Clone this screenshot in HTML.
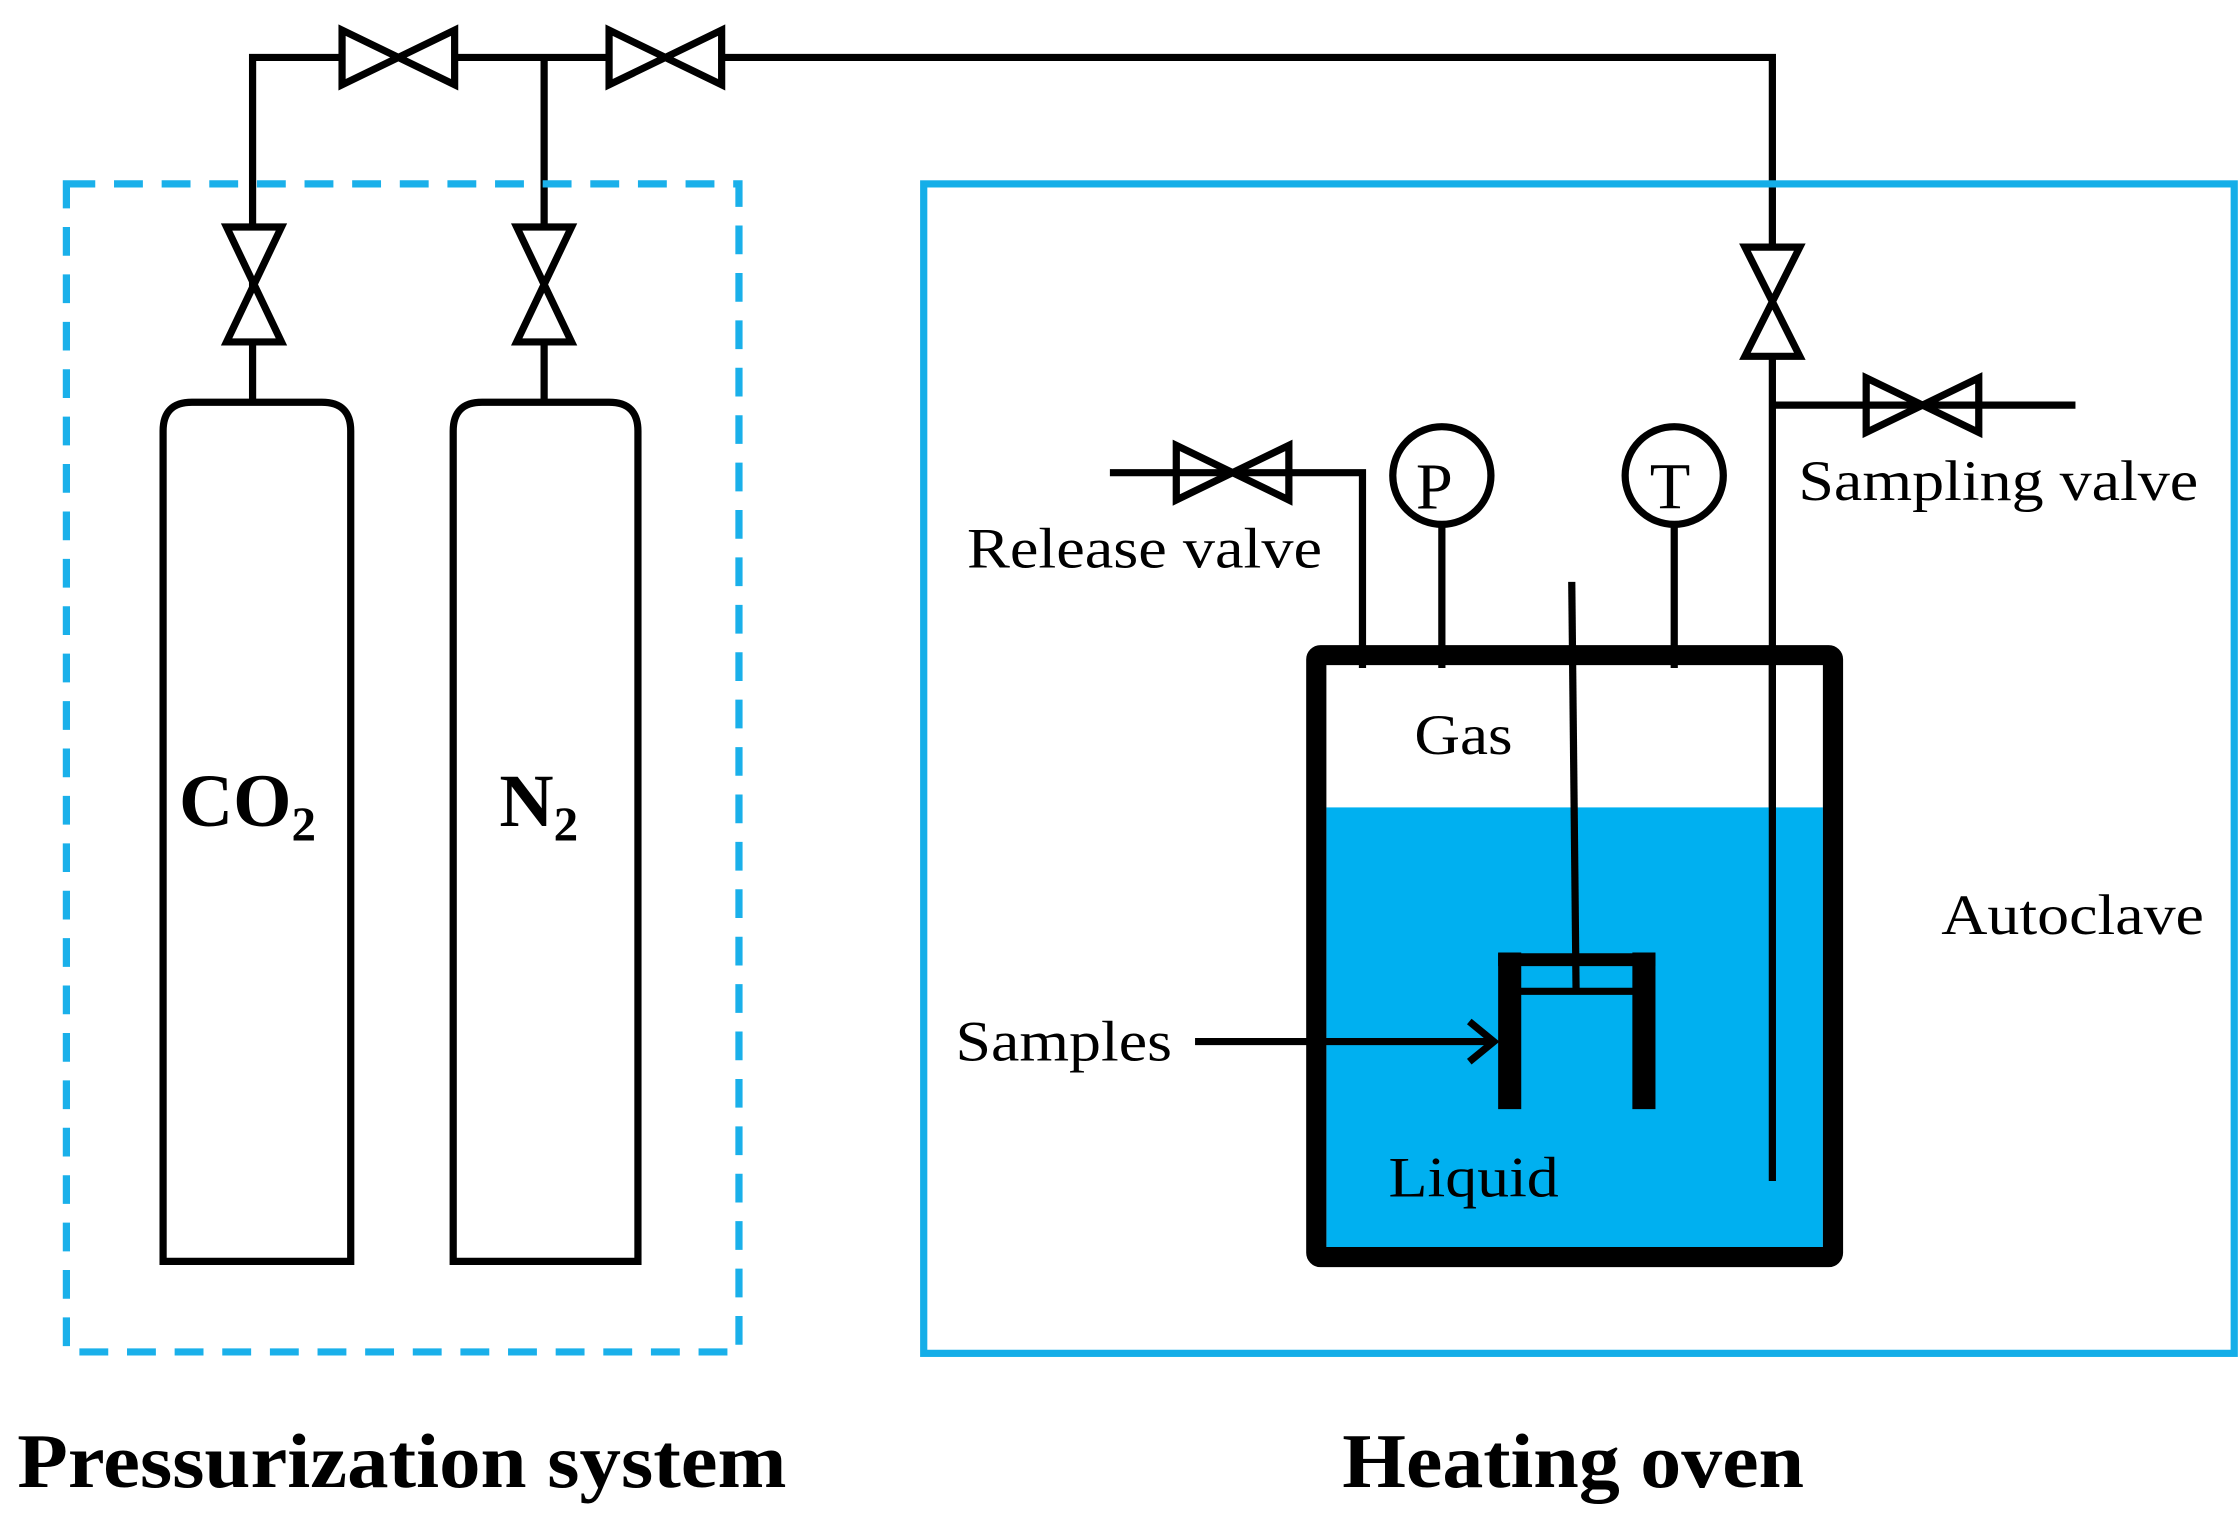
<!DOCTYPE html>
<html><head><style>html,body{margin:0;padding:0;background:#fff}svg{display:block}</style></head>
<body>
<svg width="2240" height="1520" viewBox="0 0 1552 1058" preserveAspectRatio="none" xmlns="http://www.w3.org/2000/svg" font-family="Liberation Serif, serif">
<g fill="none" stroke="#000" stroke-width="5">
<polyline points="175,280 175,40 1228,40 1228,822"/>
<line x1="377" y1="40" x2="377" y2="280"/>
<g fill="#fff">
<polygon points="237,21 237,59 315,21 315,59"/>
<polygon points="422,21 422,59 500,21 500,59"/>
<polygon points="1293,263 1293,301 1371,263 1371,301"/>
<polygon points="815,310 815,348 893,310 893,348"/>
<polygon points="157,158 195,158 157,238 195,238"/>
<polygon points="358,158 396,158 358,238 396,238"/>
<polygon points="1209,172 1247,172 1209,248 1247,248"/>
</g>
<line x1="1228" y1="282" x2="1438" y2="282"/>
<polyline points="769,329 944,329 944,465"/>
<line x1="999" y1="365" x2="999" y2="465"/>
<line x1="1160" y1="365" x2="1160" y2="465"/>
<circle cx="999" cy="331" r="34"/>
<circle cx="1160" cy="331" r="34"/>
<path d="M113,878 V300 Q113,280 133,280 H223 Q243,280 243,300 V878 Z"/>
<path d="M314,878 V300 Q314,280 334,280 H422 Q442,280 442,300 V878 Z"/>
</g>
<rect x="46" y="128" width="466" height="813" fill="none" stroke="#1ab0ea" stroke-width="5" stroke-dasharray="20 13"/>
<rect x="640" y="128" width="908" height="814" fill="none" stroke="#14aee8" stroke-width="5"/>
<rect x="919" y="562" width="344" height="306" fill="#00b0f0"/>
<rect x="912" y="456" width="358" height="419" fill="none" stroke="#000" stroke-width="14" rx="3"/>
<line x1="1228" y1="456" x2="1228" y2="822" stroke="#000" stroke-width="5"/>
<line x1="1089" y1="405" x2="1092" y2="690" stroke="#000" stroke-width="5"/>
<g stroke="#000" fill="none">
<line x1="1046" y1="663" x2="1046" y2="772" stroke-width="16"/>
<line x1="1139" y1="663" x2="1139" y2="772" stroke-width="16"/>
<line x1="1038" y1="668" x2="1147" y2="668" stroke-width="9"/>
<line x1="1046" y1="690" x2="1139" y2="690" stroke-width="5"/>
<line x1="828" y1="725" x2="1035" y2="725" stroke-width="5"/>
<polyline points="1018,711 1035,725 1018,739" stroke-width="5"/>
</g>
<g font-size="40" fill="#000">
<text x="670" y="395" textLength="246" lengthAdjust="spacingAndGlyphs">Release valve</text>
<text x="1246" y="348" textLength="277" lengthAdjust="spacingAndGlyphs">Sampling valve</text>
<text x="980" y="525" textLength="68" lengthAdjust="spacingAndGlyphs">Gas</text>
<text x="962" y="833" textLength="118" lengthAdjust="spacingAndGlyphs">Liquid</text>
<text x="1345" y="650" textLength="182" lengthAdjust="spacingAndGlyphs">Autoclave</text>
<text x="662" y="738" textLength="150" lengthAdjust="spacingAndGlyphs">Samples</text>
<text x="981" y="354" font-size="46">P</text>
<text x="1143" y="354" font-size="46">T</text>
</g>
<g font-weight="bold" fill="#000">
<text x="124" y="575" font-size="52">CO<tspan font-size="34" dy="10">2</tspan></text>
<text x="346" y="575" font-size="52">N<tspan font-size="34" dy="10">2</tspan></text>
<text x="12" y="1035" font-size="54" textLength="533" lengthAdjust="spacingAndGlyphs">Pressurization system</text>
<text x="930" y="1035" font-size="54" textLength="320" lengthAdjust="spacingAndGlyphs">Heating oven</text>
</g>
</svg>
</body></html>
